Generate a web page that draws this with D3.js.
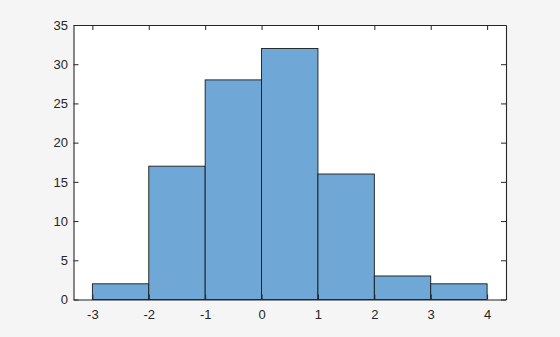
<!DOCTYPE html>
<html>
<head>
<meta charset="utf-8">
<script src="https://cdn.jsdelivr.net/npm/d3@7"></script>
<style>
  body { margin: 0; background: #f5f5f5; }
  svg text { font-family: "Liberation Sans", Arial, sans-serif; font-size: 13px; fill: #262626; }
</style>
</head>
<body>
<svg id="chart" width="560" height="337"></svg>
<script>
var binEdges = [-3, -2, -1, 0, 1, 2, 3, 4];
var counts = [2, 17, 28, 32, 16, 3, 2];
var xTicks = [-3, -2, -1, 0, 1, 2, 3, 4];
var yTicks = [0, 5, 10, 15, 20, 25, 30, 35];

var plotleft = 73.5, plotright = 506, plottop = 25, plotbottom = 299.5;
var axiscolor = '#262626';
var barcolor = 'rgb(111,168,215)';

var svg = d3.select('#chart');

var x = d3.scaleLinear().domain([-3.335, 4.335]).range([plotleft, plotright]);
var y = d3.scaleLinear().domain([0, 35]).range([plotbottom, plottop]);

svg.append('rect')
  .attr('x', plotleft).attr('y', plottop)
  .attr('width', plotright - plotleft).attr('height', plotbottom - plottop)
  .attr('fill', 'white');

var bins = counts.map(function(c, i) { return { x0: binEdges[i], x1: binEdges[i + 1], n: c }; });

svg.append('g').selectAll('rect')
  .data(bins).enter()
  .append('rect')
  .attr('x', function(d) { return x(d.x0); })
  .attr('y', function(d) { return y(d.n); })
  .attr('width', function(d) { return x(d.x1) - x(d.x0); })
  .attr('height', function(d) { return y(0) - y(d.n); })
  .attr('fill', barcolor)
  .attr('stroke', '#1a1a1a')
  .attr('stroke-width', 0.9);

var fmt = function(d) { return String(d); };

// bottom + left axes, ticks pointing in
var xaxis = svg.append('g')
  .attr('transform', 'translate(0,' + plotbottom + ')')
  .call(d3.axisBottom(x).tickValues(xTicks).tickFormat(fmt).tickSizeInner(-5).tickSizeOuter(0).tickPadding(10.5));

var yaxis = svg.append('g')
  .attr('transform', 'translate(' + plotleft + ',0)')
  .call(d3.axisLeft(y).tickValues(yTicks).tickFormat(fmt).tickSizeInner(-5).tickSizeOuter(0).tickPadding(5.5));

// top + right, ticks only
var xtop = svg.append('g')
  .attr('transform', 'translate(0,' + plottop + ')')
  .call(d3.axisTop(x).tickValues(xTicks).tickSizeInner(-5).tickSizeOuter(0));
xtop.selectAll('text').remove();

var yright = svg.append('g')
  .attr('transform', 'translate(' + plotright + ',0)')
  .call(d3.axisRight(y).tickValues(yTicks).tickSizeInner(-5).tickSizeOuter(0));
yright.selectAll('text').remove();

svg.selectAll('.domain').attr('stroke', axiscolor).attr('stroke-width', 1.1);
svg.selectAll('.tick line').attr('stroke', axiscolor).attr('stroke-width', 1);
svg.selectAll('.tick text').attr('fill', axiscolor).style('font-size', '13px');
</script>
</body>
</html>
